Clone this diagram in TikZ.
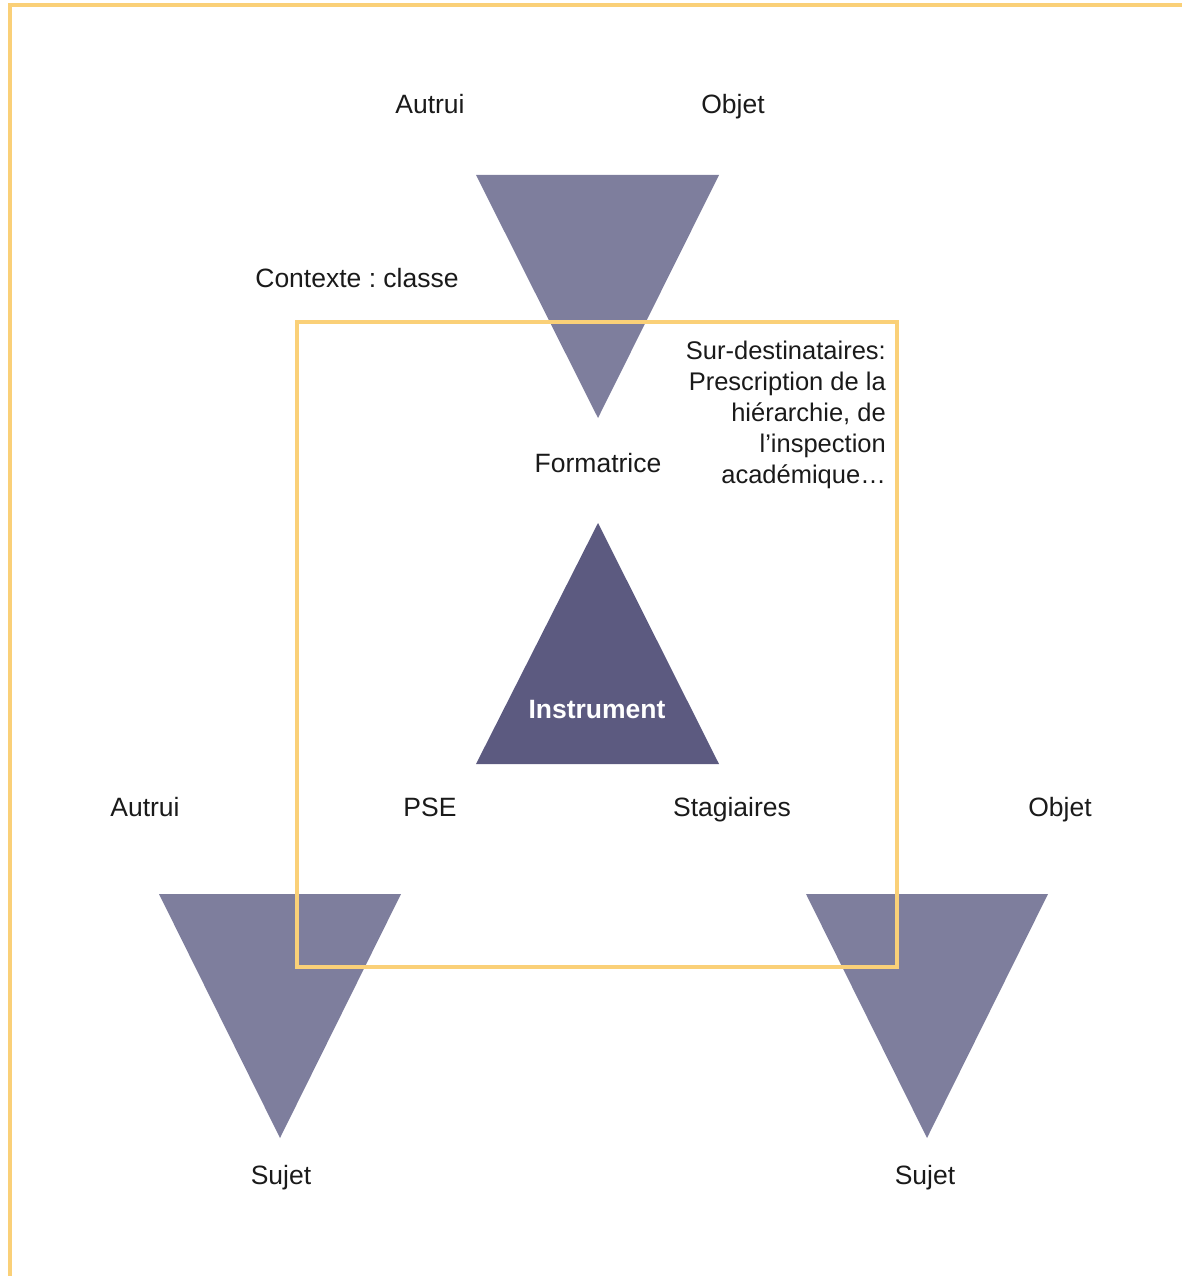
\documentclass[tikz,border=0pt]{standalone}
\usepackage{fontspec}
\setmainfont{Liberation Sans}
\frenchspacing
\definecolor{frameyellow}{HTML}{FAD078}
\definecolor{trilight}{HTML}{7E7E9D}
\definecolor{tridark}{HTML}{5C5A80}
\definecolor{txt}{HTML}{1A1A1A}
\begin{document}
\begin{tikzpicture}[x=1pt,y=-1pt,
  lbl/.style={font=\fontsize{26.5}{31}\selectfont, text=txt, inner sep=0pt, text height=19pt, text depth=0pt},
  tri/.style={fill=trilight, draw=none},
  yframe/.style={draw=frameyellow, line width=4pt}]
\useasboundingbox (0,0) rectangle (1181,1276);
% outer frame (top and left edges visible)
\draw[yframe] (9.5,1280) -- (9.5,5.5) -- (1185,5.5);
% triangles
\fill[tri] (476,175) -- (719,175) -- (598,418) -- cycle;
\fill[tridark] (598,523) -- (719,764) -- (476,764) -- cycle;
\fill[tri] (159,894) -- (401,894) -- (280,1138) -- cycle;
\fill[tri] (806,894) -- (1048,894) -- (927,1138) -- cycle;
% inner frame
\draw[yframe] (297,321.5) rectangle (896.5,967);
% labels
\node[lbl] (autruiT) at (430,104) {Autrui};
\node[lbl] (objetT) at (733,104) {Objet};
\node[lbl] (contexte) at (357,278) {Contexte : classe};
\node[lbl] (formatrice) at (598,463) {Formatrice};
\node[lbl, font=\fontsize{25.5}{31}\selectfont, anchor=north east, align=right, text height=, text depth=] (surdest) at (886,341) {Sur-destinataires:\\Prescription de la\\hiérarchie, de\\l’inspection\\académique…};
\node[lbl, text=white, font=\fontsize{26.5}{31}\selectfont\bfseries] (instrument) at (597,709) {Instrument};
\node[lbl] (autruiL) at (145,807) {Autrui};
\node[lbl] (pse) at (430,807) {PSE};
\node[lbl] (stagiaires) at (732,807) {Stagiaires};
\node[lbl] (objetR) at (1060,807) {Objet};
\node[lbl] (sujetL) at (281,1175) {Sujet};
\node[lbl] (sujetR) at (925,1175) {Sujet};
\end{tikzpicture}
\end{document}
